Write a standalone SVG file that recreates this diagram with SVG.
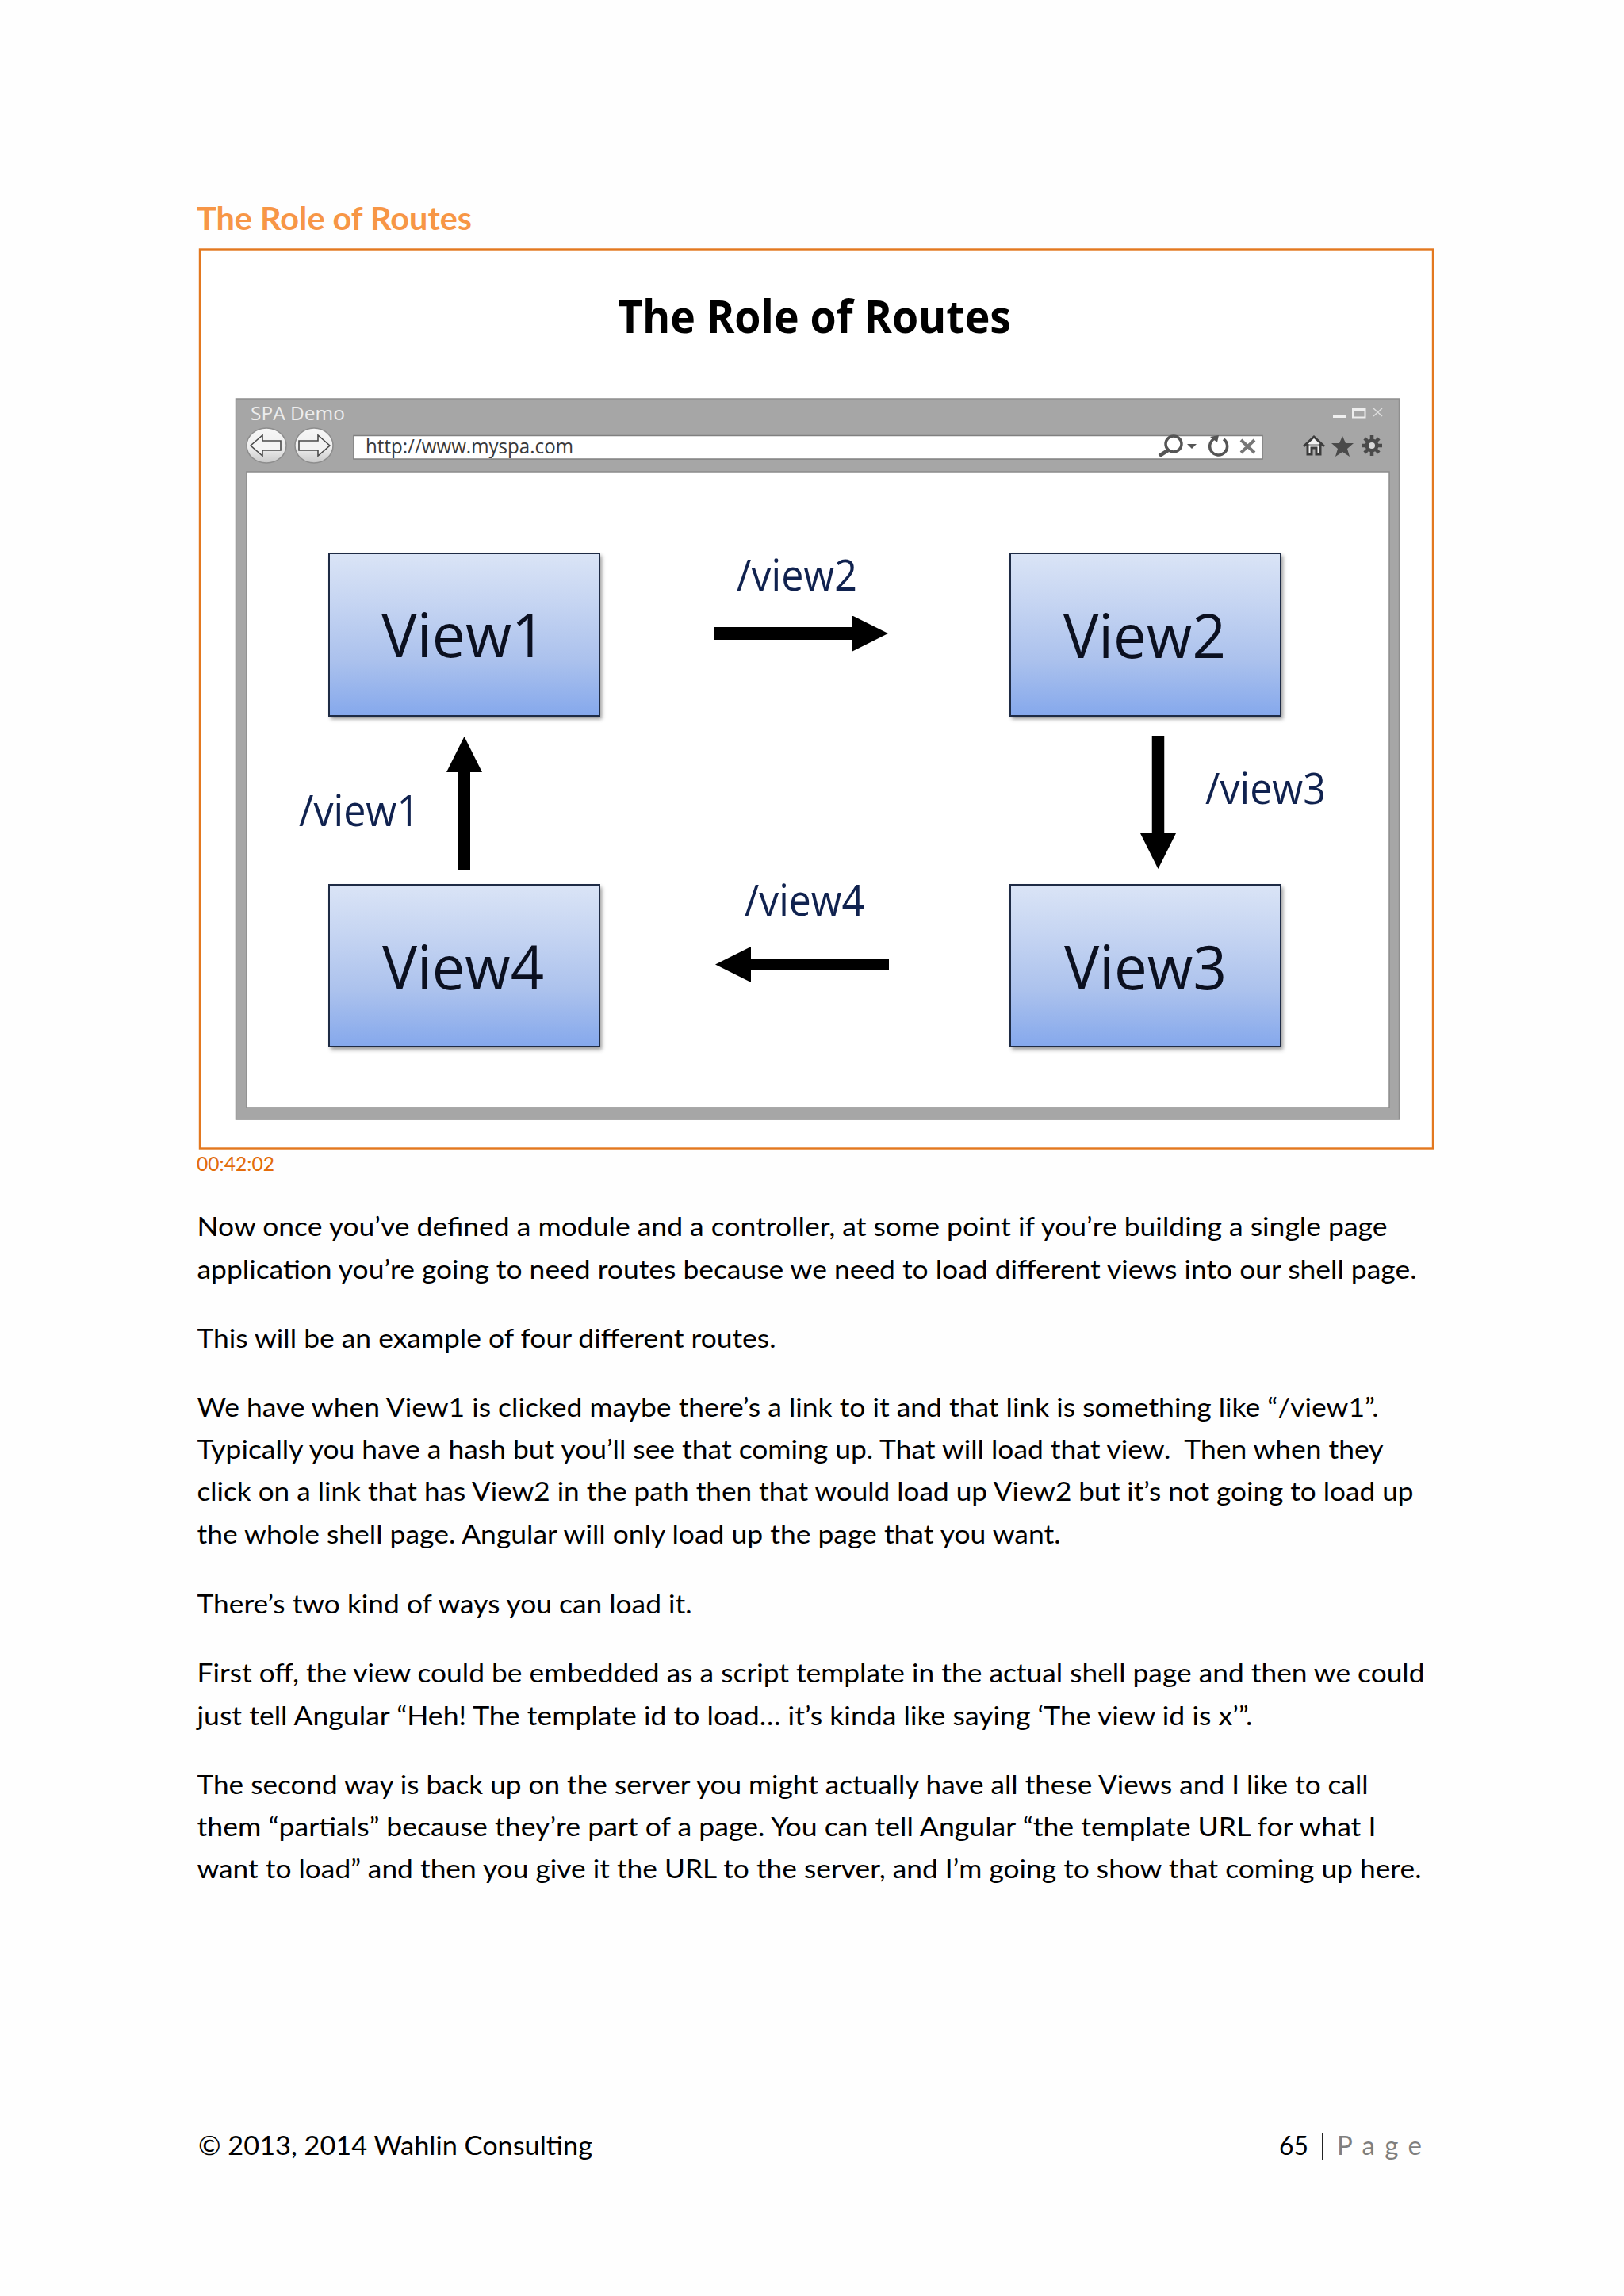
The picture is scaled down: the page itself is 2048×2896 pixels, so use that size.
<svg xmlns="http://www.w3.org/2000/svg" width="2048" height="2896" viewBox="0 0 2048 2896">
<style>
.body{font-family:"Lato","Liberation Sans",sans-serif;font-size:33px;fill:#000}
.slide{font-family:"Open Sans","Noto Sans",sans-serif}
.vname{font-size:76px;fill:#0b1020}
.route{font-size:54px;fill:#10224f}
.box{fill:url(#boxGrad);stroke:#1e2b45;stroke-width:2}
.shadow{fill:#555;opacity:.6;filter:url(#blur)}
.shaft{stroke:#000;stroke-width:16;fill:none;marker-end:url(#head)}
.nav{fill:url(#navGrad);stroke:#8d8d8d;stroke-width:1.5}
.navarrow{fill:#f4f4f4;stroke:#4a4a4a;stroke-width:1.6;stroke-linejoin:miter}
.tool{fill:none;stroke:#555;stroke-width:3.5}
</style>
<defs>
<linearGradient id="boxGrad" x1="0" y1="0" x2="0" y2="1">
<stop offset="0" stop-color="#dae4f6"/><stop offset=".3" stop-color="#c6d5f2"/><stop offset=".65" stop-color="#acc2ed"/><stop offset="1" stop-color="#85a8ec"/>
</linearGradient>
<linearGradient id="navGrad" x1="0" y1="0" x2="0" y2="1">
<stop offset="0" stop-color="#f7f7f7"/><stop offset=".55" stop-color="#eeeeee"/><stop offset="1" stop-color="#c9c9c9"/>
</linearGradient>
<filter id="blur" x="-10%" y="-10%" width="120%" height="120%"><feGaussianBlur stdDeviation="2.5"/></filter>
<marker id="head" viewBox="0 0 45 45" refX="1" refY="22.5" markerWidth="45" markerHeight="45" markerUnits="userSpaceOnUse" orient="auto"><path d="M0,0 L45,22.5 L0,45 Z" fill="#000"/></marker>
</defs>
<rect width="2048" height="2896" fill="#fefefe"/>

<text id="heading" x="248" y="290" font-family="Lato,'Liberation Sans',sans-serif" font-weight="700" font-size="41" fill="#f79646" textLength="347" lengthAdjust="spacingAndGlyphs">The Role of Routes</text>

<g id="slide-frame">
<rect x="252" y="314.5" width="1555" height="1134" fill="#fff" stroke="#e3781f" stroke-width="2.4"/>
</g>
<text id="slide-title" class="slide" x="779" y="420" font-weight="700" font-size="57" fill="#000" textLength="496" lengthAdjust="spacingAndGlyphs">The Role of Routes</text>

<g id="browser">
<rect x="297.5" y="503" width="1467" height="909" fill="#a6a6a6" stroke="#8f8f8f" stroke-width="1.5"/>
<rect x="311" y="595" width="1441" height="802" fill="#fff" stroke="#8c8c8c" stroke-width="1.5"/>
<text class="slide" x="316" y="530" font-size="24" fill="#ededed" textLength="119" lengthAdjust="spacingAndGlyphs">SPA Demo</text>
<ellipse class="nav" cx="336" cy="562" rx="25" ry="22"/>
<path class="navarrow" d="M316,562 L331,549 V556 H354 V568 H331 V575 Z"/>
<ellipse class="nav" cx="396" cy="562" rx="24" ry="22"/>
<path class="navarrow" d="M416,562 L401,549 V556 H377 V568 H401 V575 Z"/>
<rect x="446" y="549.5" width="1146" height="29.5" fill="#fff" stroke="#808080" stroke-width="1.5"/>
<text class="slide" x="461" y="572" font-size="26" fill="#3a3a3a" textLength="262" lengthAdjust="spacingAndGlyphs">http://www.myspa.com</text>
<g id="address-icons">
<circle class="tool" cx="1480" cy="560" r="10"/>
<path class="tool" d="M1473,568 L1462,575" style="stroke-width:5"/>
<path d="M1497,560 H1509 L1503,566 Z" fill="#555"/>
<path class="tool" d="M1532,553 A11,11 0 1 0 1543,554"/>
<path d="M1526,551 L1537,549 L1535,558 Z" fill="#555"/>
<path class="tool" d="M1565,555 L1582,571 M1582,555 L1565,571" style="stroke-width:4;stroke:#777"/>
</g>
<g id="toolbar-icons">
<path d="M1644,563 L1657,551 L1670,563 M1649,560 V573 H1654 V565 H1660 V573 H1665 V560" fill="#f2f2f2" stroke="#3c3c3c" stroke-width="3"/>
<path d="M1693,550 L1697,559 L1707,559 L1699,566 L1702,576 L1693,570 L1684,576 L1687,566 L1679,559 L1689,559 Z" fill="#4a4a4a"/>
<path d="M1730,549 V575 M1717,562 H1743 M1721,553 L1739,571 M1739,553 L1721,571" stroke="#4a4a4a" stroke-width="4.5"/>
<circle cx="1730" cy="562" r="8.5" fill="#4a4a4a"/>
<circle cx="1730" cy="562" r="4" fill="#d8d8d8"/>
</g>
<g id="window-controls">
<rect x="1681" y="524" width="16" height="3" fill="#f0f0f0"/>
<rect x="1706" y="515.5" width="15.5" height="11" fill="none" stroke="#eeeeee" stroke-width="2"/>
<rect x="1706" y="515.5" width="15.5" height="3.5" fill="#eeeeee"/>
<path d="M1732,515 L1743,525 M1743,515 L1732,525" stroke="#dedede" stroke-width="1.5"/>
</g>
</g>

<g id="view1">
<rect class="shadow" x="417" y="701" width="342" height="206"/>
<rect class="box" x="415" y="698" width="341" height="205"/>
<text class="slide vname" x="481" y="829" textLength="207" lengthAdjust="spacingAndGlyphs">View1</text>
</g>
<g id="view2">
<rect class="shadow" x="1276" y="701" width="342" height="206"/>
<rect class="box" x="1274" y="698" width="341" height="205"/>
<text class="slide vname" x="1341" y="830" textLength="205" lengthAdjust="spacingAndGlyphs">View2</text>
</g>
<g id="view3">
<rect class="shadow" x="1276" y="1119" width="342" height="205"/>
<rect class="box" x="1274" y="1116" width="341" height="204"/>
<text class="slide vname" x="1342" y="1248" textLength="205" lengthAdjust="spacingAndGlyphs">View3</text>
</g>
<g id="view4">
<rect class="shadow" x="417" y="1119" width="342" height="205"/>
<rect class="box" x="415" y="1116" width="341" height="204"/>
<text class="slide vname" x="482" y="1248" textLength="204" lengthAdjust="spacingAndGlyphs">View4</text>
</g>

<g id="connectors">
<line class="shaft" x1="901" y1="799" x2="1076" y2="799"/>
<line class="shaft" x1="1460.5" y1="928" x2="1460.5" y2="1052" style="stroke-width:15.5"/>
<line class="shaft" x1="1121" y1="1216.5" x2="946" y2="1216.5" style="stroke-width:15"/>
<line class="shaft" x1="585.5" y1="1097" x2="585.5" y2="973" style="stroke-width:15"/>
<text class="slide route" x="929" y="745" textLength="152" lengthAdjust="spacingAndGlyphs">/view2</text>
<text class="slide route" x="1520" y="1014" textLength="152" lengthAdjust="spacingAndGlyphs">/view3</text>
<text class="slide route" x="939" y="1155" textLength="151" lengthAdjust="spacingAndGlyphs">/view4</text>
<text class="slide route" x="377" y="1042" textLength="152" lengthAdjust="spacingAndGlyphs">/view1</text>
</g>

<text id="timestamp" x="248" y="1477" font-family="Lato,'Liberation Sans',sans-serif" font-size="25" fill="#e36c0a" textLength="98" lengthAdjust="spacingAndGlyphs">00:42:02</text>

<g id="body-text">
<text class="body" x="248.5" y="1559" textLength="1501" lengthAdjust="spacingAndGlyphs">Now once you’ve defined a module and a controller, at some point if you’re building a single page</text>
<text class="body" x="248.5" y="1612.5" textLength="1538" lengthAdjust="spacingAndGlyphs">application you’re going to need routes because we need to load different views into our shell page.</text>
<text class="body" x="248.5" y="1700" textLength="730" lengthAdjust="spacingAndGlyphs">This will be an example of four different routes.</text>
<text class="body" x="248.5" y="1786.5" textLength="1490" lengthAdjust="spacingAndGlyphs">We have when View1 is clicked maybe there’s a link to it and that link is something like “/view1”.</text>
<text class="body" x="248.5" y="1840" textLength="1496" lengthAdjust="spacingAndGlyphs" xml:space="preserve">Typically you have a hash but you’ll see that coming up. That will load that view.  Then when they</text>
<text class="body" x="248.5" y="1893" textLength="1534" lengthAdjust="spacingAndGlyphs">click on a link that has View2 in the path then that would load up View2 but it’s not going to load up</text>
<text class="body" x="248.5" y="1946.5" textLength="1089" lengthAdjust="spacingAndGlyphs">the whole shell page. Angular will only load up the page that you want.</text>
<text class="body" x="248.5" y="2035" textLength="624" lengthAdjust="spacingAndGlyphs">There’s two kind of ways you can load it.</text>
<text class="body" x="248.5" y="2122" textLength="1548" lengthAdjust="spacingAndGlyphs">First off, the view could be embedded as a script template in the actual shell page and then we could</text>
<text class="body" x="248.5" y="2175.5" textLength="1331" lengthAdjust="spacingAndGlyphs">just tell Angular “Heh! The template id to load… it’s kinda like saying ‘The view id is x’”.</text>
<text class="body" x="248.5" y="2262.5" textLength="1477" lengthAdjust="spacingAndGlyphs">The second way is back up on the server you might actually have all these Views and I like to call</text>
<text class="body" x="248.5" y="2316" textLength="1487" lengthAdjust="spacingAndGlyphs">them “partials” because they’re part of a page. You can tell Angular “the template URL for what I</text>
<text class="body" x="248.5" y="2369" textLength="1544" lengthAdjust="spacingAndGlyphs">want to load” and then you give it the URL to the server, and I’m going to show that coming up here.</text>
</g>

<g id="footer">
<text class="body" x="250" y="2718" textLength="497" lengthAdjust="spacingAndGlyphs">© 2013, 2014 Wahlin Consulting</text>
<text class="body" x="1613" y="2718" textLength="37" lengthAdjust="spacingAndGlyphs">65</text>
<rect x="1667" y="2691" width="2" height="33" fill="#222"/>
<text class="body" x="1686" y="2718" style="fill:#7f7f7f" textLength="107" lengthAdjust="spacing">Page</text>
</g>
</svg>
